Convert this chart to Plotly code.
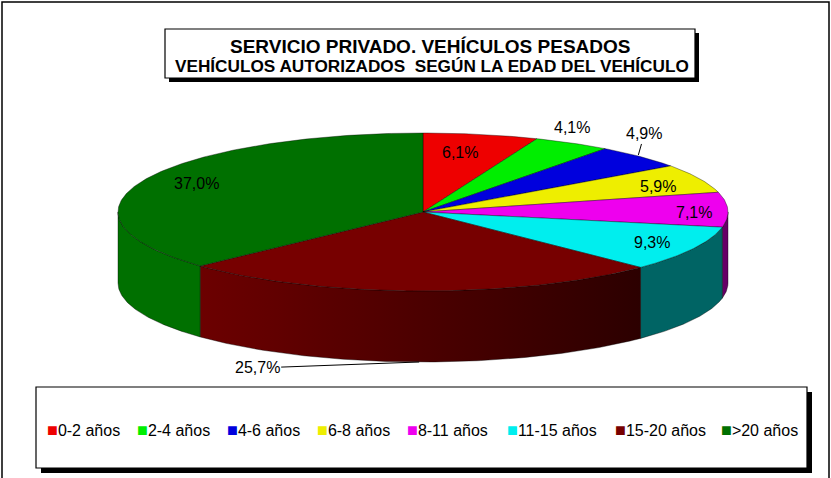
import numpy as np
import plotly.graph_objects as go

# ---------------- data ----------------
categories = ["0-2 años", "2-4 años", "4-6 años", "6-8 años",
              "8-11 años", "11-15 años", "15-20 años", ">20 años"]
values = [6.1, 4.1, 4.9, 5.9, 7.1, 9.3, 25.7, 37.0]
value_labels = ["6,1%", "4,1%", "4,9%", "5,9%", "7,1%", "9,3%", "25,7%", "37,0%"]

title_line1 = "SERVICIO PRIVADO. VEHÍCULOS PESADOS"
title_line2 = "VEHÍCULOS AUTORIZADOS  SEGÚN LA EDAD DEL VEHÍCULO"

# ---------------- styles ----------------
top_colors = ["#EE0000", "#00EE00", "#0000DD", "#EEEE00",
              "#EE00EE", "#00EEEE", "#770000", "#007000"]
side_colors = ["#AA0000", "#00AA00", "#0000AA", "#AAAA00",
               "#660066", "#006464", None, "#007000"]
brown_side_gradient = [[0, "#6C0000"], [1, "#2C0000"]]

# label placement factors (relative to the ellipse point at each slice mid-angle)
label_kx = [0.64, 1.00, 0.99, 0.85, 0.89, 0.85, None, 0.81]
label_ky = [0.77, 1.23, 1.03, 0.75, 0.00, 0.84, None, 0.91]
# legend entry widths (px)
legend_widths = [45, 45, 45, 45, 55, 63, 61, 90]

FONT = "Liberation Sans, Arial, sans-serif"
W, H = 831, 478
cx, cy, rx, ry, depth = 423, 212, 305, 79, 71

total = float(sum(values))
cum = np.concatenate([[0.0], np.cumsum(values)])
start_deg = cum[:-1] / total * 360.0
end_deg = cum[1:] / total * 360.0
mid_deg = (start_deg + end_deg) / 2.0


def arc(t0, t1, n=None):
    if n is None:
        n = max(3, int(abs(t1 - t0) * 1.5) + 2)
    t = np.radians(np.linspace(t0, t1, n))
    return cx + rx * np.sin(t), cy - ry * np.cos(t)


fig = go.Figure()
edge = dict(color="rgba(0,0,0,0.55)", width=0.7)

# ---- visible side walls (front half: 90..270 deg) ----
for i in range(len(values)):
    a0 = max(start_deg[i], 90.0)
    a1 = min(end_deg[i], 270.0)
    if a1 <= a0:
        continue
    xs, ys = arc(a0, a1)
    px = np.concatenate([xs, xs[::-1], xs[:1]])
    py = np.concatenate([ys, ys[::-1] + depth, ys[:1]])
    kw = dict(x=px, y=py, mode="lines", fill="toself", line=edge,
              showlegend=False, hoverinfo="skip")
    if side_colors[i] is None:
        kw["fillgradient"] = dict(type="horizontal", colorscale=brown_side_gradient)
    else:
        kw["fillcolor"] = side_colors[i]
    fig.add_trace(go.Scatter(**kw))

# ---- top faces ----
for i in range(len(values)):
    xs, ys = arc(start_deg[i], end_deg[i])
    px = np.concatenate([[cx], xs, [cx]])
    py = np.concatenate([[cy], ys, [cy]])
    fig.add_trace(go.Scatter(x=px, y=py, mode="lines", fill="toself",
                             fillcolor=top_colors[i], line=edge,
                             name=categories[i], showlegend=False,
                             hovertemplate=categories[i] + ": " + value_labels[i] + "<extra></extra>"))

# ---- legend entries ----
for i in range(len(values)):
    fig.add_trace(go.Scatter(
        x=[None], y=[None], mode="markers",
        marker=dict(size=1, color="rgba(0,0,0,0)", line=dict(width=0)),
        name=("<span style='color:%s;font-size:18px'>■</span>%s" % (top_colors[i], categories[i])),
        legendwidth=legend_widths[i], showlegend=True, hoverinfo="skip"))

# ---- value labels ----
annotations = []
lab_font = dict(family=FONT, size=16, color="black")
for i in range(len(values)):
    m = np.radians(mid_deg[i])
    if i == 2:  # leader line to top rim
        tx = cx + rx * label_kx[i] * np.sin(m)
        ty = cy - ry * label_ky[i] * np.cos(m)
        annotations.append(dict(x=tx, y=ty, xref="x", yref="y", text=value_labels[i],
                                showarrow=True, arrowhead=0, arrowwidth=1, arrowcolor="black",
                                ax=6, ay=-21, font=lab_font))
    elif i == 6:  # leader line to bottom of side wall
        tx = cx + rx * np.sin(m)
        ty = cy - ry * np.cos(m) + depth
        annotations.append(dict(x=tx, y=ty, xref="x", yref="y", text=value_labels[i],
                                showarrow=True, arrowhead=0, arrowwidth=1, arrowcolor="black",
                                ax=-162, ay=6, font=lab_font))
    else:
        tx = cx + rx * label_kx[i] * np.sin(m)
        ty = cy - ry * label_ky[i] * np.cos(m)
        annotations.append(dict(x=tx, y=ty, xref="x", yref="y", text=value_labels[i],
                                showarrow=False, font=lab_font))

# ---- title ----
annotations.append(dict(x=430, y=46, xref="x", yref="y", text="<b>" + title_line1 + "</b>",
                        showarrow=False, font=dict(family=FONT, size=19, color="black")))
annotations.append(dict(x=432, y=66, xref="x", yref="y", text="<b>" + title_line2 + "</b>",
                        showarrow=False, font=dict(family=FONT, size=17.2, color="black")))

shapes = [
    # outer frame
    dict(type="rect", xref="x", yref="y", x0=2, y0=2, x1=829, y1=500,
         line=dict(color="black", width=1.5), fillcolor="rgba(0,0,0,0)", layer="below"),
    # title box shadow + box
    dict(type="rect", xref="x", yref="y", x0=169, y0=33, x1=699, y1=82,
         line=dict(width=0), fillcolor="black", layer="below"),
    dict(type="rect", xref="x", yref="y", x0=165, y0=29, x1=695, y1=78,
         line=dict(color="black", width=1.2), fillcolor="white", layer="below"),
    # legend box shadow + box
    dict(type="rect", xref="x", yref="y", x0=41, y0=392, x1=812, y1=473,
         line=dict(width=0), fillcolor="black", layer="below"),
    dict(type="rect", xref="x", yref="y", x0=36, y0=387, x1=807, y1=468,
         line=dict(color="black", width=1.2), fillcolor="white", layer="below"),
]

fig.update_layout(
    width=W, height=H,
    margin=dict(l=0, r=0, t=0, b=0),
    paper_bgcolor="white", plot_bgcolor="white",
    xaxis=dict(range=[0, W], visible=False, fixedrange=True),
    yaxis=dict(range=[H, 0], visible=False, fixedrange=True),
    showlegend=True,
    legend=dict(orientation="h", x=7 / W, xanchor="left", y=1 - 430 / H, yanchor="middle",
                bgcolor="rgba(0,0,0,0)", borderwidth=0, itemwidth=30,
                font=dict(family=FONT, size=16, color="black"), itemclick=False,
                itemdoubleclick=False),
    annotations=annotations,
    shapes=shapes,
    font=dict(family=FONT),
)

fig.write_html("out.html", config={"displayModeBar": False},
               post_script="document.body.style.margin='0';")
